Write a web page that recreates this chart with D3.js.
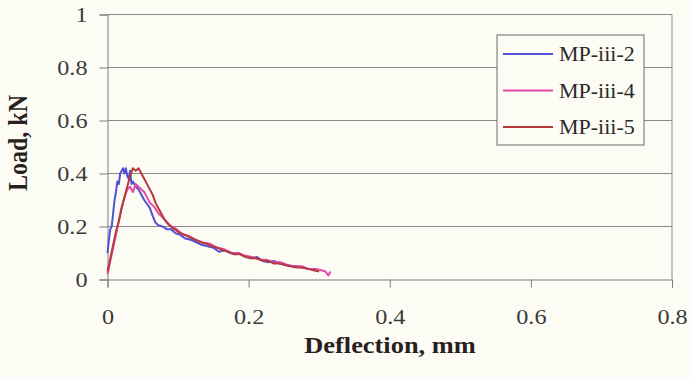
<!DOCTYPE html>
<html>
<head>
<meta charset="utf-8">
<script src="https://cdn.jsdelivr.net/npm/d3@7"></script>
<style>
    body { margin: 0; background: #fcfcf4; }
    svg text { font-family: "Liberation Serif", "DejaVu Serif", serif; }
</style>
</head>
<body>
<div id="chart"><svg width="692" height="378"></svg></div>
<script>
// ---- data ----
var seriesNames = ['MP-iii-2', 'MP-iii-4', 'MP-iii-5']
var xTicks = [0, 0.2, 0.4, 0.6, 0.8]
var yTicks = [0, 0.2, 0.4, 0.6, 0.8, 1]

// MP-iii-2 (blue)
var defl2 = [0, 0.002, 0.004, 0.006, 0.008, 0.010, 0.012, 0.014, 0.016, 0.018, 0.020, 0.022, 0.024, 0.026, 0.028, 0.030, 0.032, 0.034, 0.036, 0.040, 0.044, 0.048, 0.052, 0.056, 0.060, 0.064, 0.068, 0.072, 0.078, 0.084, 0.090, 0.096, 0.102, 0.110, 0.118, 0.126, 0.134, 0.142, 0.150, 0.158, 0.166, 0.174, 0.180, 0.186, 0.192, 0.198, 0.204, 0.212, 0.220, 0.228, 0.236, 0.244, 0.252, 0.260, 0.268, 0.276, 0.284]
var load2 = [0.10, 0.15, 0.19, 0.20, 0.25, 0.30, 0.33, 0.37, 0.36, 0.40, 0.41, 0.42, 0.40, 0.42, 0.39, 0.38, 0.41, 0.36, 0.37, 0.35, 0.34, 0.32, 0.30, 0.285, 0.27, 0.24, 0.215, 0.205, 0.20, 0.19, 0.19, 0.175, 0.17, 0.155, 0.15, 0.14, 0.13, 0.125, 0.12, 0.105, 0.11, 0.10, 0.095, 0.10, 0.09, 0.085, 0.08, 0.085, 0.07, 0.065, 0.07, 0.06, 0.055, 0.05, 0.05, 0.045, 0.04]

// MP-iii-4 (pink)
var defl4 = [0, 0.004, 0.008, 0.012, 0.016, 0.020, 0.024, 0.028, 0.032, 0.036, 0.040, 0.044, 0.048, 0.052, 0.056, 0.060, 0.066, 0.072, 0.078, 0.084, 0.090, 0.098, 0.106, 0.115, 0.125, 0.135, 0.145, 0.155, 0.165, 0.175, 0.185, 0.195, 0.205, 0.215, 0.225, 0.235, 0.245, 0.255, 0.265, 0.275, 0.285, 0.295, 0.303, 0.309, 0.313, 0.316]
var load4 = [0.02, 0.07, 0.12, 0.17, 0.22, 0.27, 0.31, 0.34, 0.35, 0.33, 0.36, 0.35, 0.34, 0.33, 0.31, 0.29, 0.275, 0.25, 0.235, 0.215, 0.20, 0.19, 0.17, 0.165, 0.15, 0.14, 0.135, 0.12, 0.115, 0.10, 0.10, 0.09, 0.085, 0.075, 0.075, 0.065, 0.065, 0.055, 0.05, 0.05, 0.04, 0.04, 0.035, 0.03, 0.015, 0.03]

// MP-iii-5 (red)
var defl5 = [0, 0.004, 0.008, 0.012, 0.016, 0.020, 0.024, 0.028, 0.032, 0.036, 0.040, 0.044, 0.048, 0.052, 0.056, 0.060, 0.064, 0.068, 0.072, 0.076, 0.080, 0.086, 0.092, 0.100, 0.108, 0.116, 0.124, 0.132, 0.140, 0.148, 0.156, 0.164, 0.172, 0.180, 0.188, 0.196, 0.204, 0.212, 0.220, 0.228, 0.236, 0.244, 0.252, 0.260, 0.268, 0.276, 0.284, 0.292, 0.300]
var load5 = [0.03, 0.08, 0.13, 0.18, 0.22, 0.27, 0.31, 0.35, 0.39, 0.42, 0.41, 0.42, 0.40, 0.38, 0.36, 0.34, 0.32, 0.29, 0.27, 0.25, 0.23, 0.21, 0.195, 0.18, 0.17, 0.16, 0.15, 0.14, 0.135, 0.125, 0.12, 0.11, 0.105, 0.095, 0.095, 0.085, 0.08, 0.08, 0.07, 0.07, 0.06, 0.06, 0.055, 0.05, 0.045, 0.045, 0.04, 0.035, 0.03]

var colors = ['#4f52d6', '#e64aa8', '#b43a3e']

// ---- layout ----
var svg = d3.select('#chart svg')
var margin = { left: 107.5, right: 20, top: 14.5, bottom: 98.5 }
var width = 692 - margin.left - margin.right
var height = 378 - margin.top - margin.bottom
var stretch = 1.1 // the picture's text is a little wider than plain Times

svg.append('rect').attr('width', 692).attr('height', 378).attr('fill', '#fcfcf4')

var g = svg.append('g').attr('transform', 'translate(' + margin.left + ',' + margin.top + ')')

var xScale = d3.scaleLinear().domain([0, 0.8]).range([0, width])
var yScale = d3.scaleLinear().domain([0, 1]).range([height, 0])

// gridlines
g.selectAll('line.grid')
    .data(yTicks.filter(function(d) { return d > 0 }))
    .enter()
    .append('line')
    .classed('grid', true)
    .attr('x1', 0)
    .attr('x2', width)
    .attr('y1', function(d) { return yScale(d) })
    .attr('y2', function(d) { return yScale(d) })
    .attr('stroke', '#8a8a8a')
    .attr('stroke-width', 1)

// right border
g.append('line')
    .attr('x1', width).attr('x2', width)
    .attr('y1', 0).attr('y2', height)
    .attr('stroke', '#8a8a8a')

var xAxis = d3.axisBottom(xScale).tickValues(xTicks).tickFormat(d3.format('')).tickSize(8).tickPadding(21)
var yAxis = d3.axisLeft(yScale).tickValues(yTicks).tickFormat(d3.format('')).tickSize(8).tickPadding(12)

var gx = g.append('g').attr('transform', 'translate(0,' + height + ')').call(xAxis)
var gy = g.append('g').call(yAxis)

svg.selectAll('.domain, .tick line').attr('stroke', '#7a7a7a')
g.selectAll('.tick text')
    .attr('font-family', null)
    .attr('font-size', 22)
    .attr('fill', '#3a3a3a')
    .each(function() {
        var t = d3.select(this)
        var x = +t.attr('x') || 0
        t.attr('x', 0).attr('transform', 'translate(' + x + ',0) scale(' + stretch + ',1)')
    })
gx.attr('font-family', null)
gy.attr('font-family', null)

// curves
var series = [
    { name: seriesNames[0], x: defl2, y: load2, color: colors[0] },
    { name: seriesNames[1], x: defl4, y: load4, color: colors[1] },
    { name: seriesNames[2], x: defl5, y: load5, color: colors[2] }
]

var line = d3.line()
    .x(function(d) { return xScale(d[0]) })
    .y(function(d) { return yScale(d[1]) })

g.selectAll('path.curve')
    .data(series)
    .enter()
    .append('path')
    .classed('curve', true)
    .attr('d', function(s) { return line(d3.zip(s.x, s.y)) })
    .attr('fill', 'none')
    .attr('stroke', function(s) { return s.color })
    .attr('stroke-width', 2)
    .attr('stroke-linejoin', 'round')

// axis titles
svg.append('text')
    .attr('transform', 'translate(390,353) scale(' + stretch + ',1)')
    .attr('text-anchor', 'middle')
    .attr('font-weight', 'bold')
    .attr('font-size', 24)
    .attr('fill', '#2a1e1e')
    .text('Deflection, mm')

svg.append('text')
    .attr('transform', 'translate(27,143) rotate(-90) scale(1,' + stretch + ')')
    .attr('text-anchor', 'middle')
    .attr('font-weight', 'bold')
    .attr('font-size', 24)
    .attr('fill', '#2a1e1e')
    .text('Load, kN')

// legend
var legend = svg.append('g').attr('transform', 'translate(497,35)')
legend.append('rect')
    .attr('width', 147)
    .attr('height', 110)
    .attr('fill', '#fcfcf4')
    .attr('stroke', '#6a6a6a')

var items = legend.selectAll('g.item')
    .data(series)
    .enter()
    .append('g')
    .classed('item', true)
    .attr('transform', function(d, i) { return 'translate(0,' + (19 + i * 36.5) + ')' })

items.append('line')
    .attr('x1', 6).attr('x2', 56)
    .attr('stroke', function(d) { return d.color })
    .attr('stroke-width', 2)

items.append('text')
    .attr('transform', 'translate(62,0) scale(' + stretch + ',1)')
    .attr('dy', '0.35em')
    .attr('font-size', 20)
    .attr('fill', '#2a2a2a')
    .text(function(d) { return d.name })
</script>
</body>
</html>
